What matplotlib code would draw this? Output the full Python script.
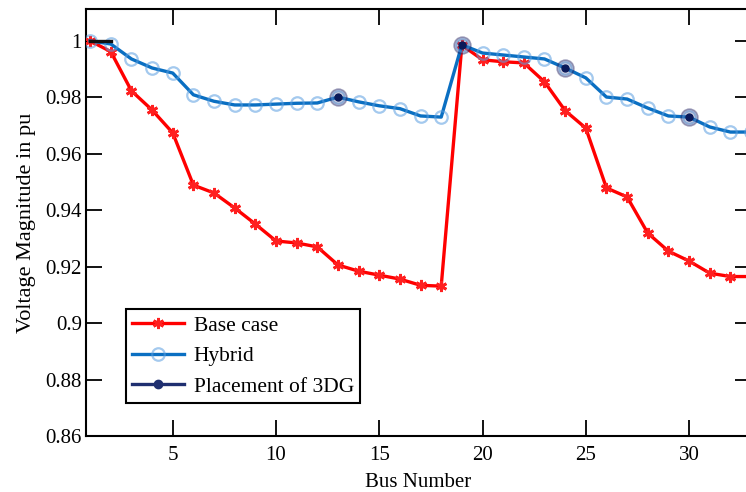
import numpy as np
import matplotlib
matplotlib.use("Agg")
import matplotlib.pyplot as plt

plt.rcParams['font.family'] = ['Liberation Serif', 'DejaVu Serif']

bus = np.arange(1, 34)

base_case = [1.0, 0.9962, 0.9823, 0.9755, 0.9674, 0.9489, 0.9461, 0.9408, 0.9351, 0.9291,
             0.9284, 0.9270, 0.9206, 0.9184, 0.9170, 0.9156, 0.9134, 0.9131, 0.9985, 0.9933,
             0.9926, 0.9922, 0.9855, 0.9753, 0.9691, 0.9479, 0.9447, 0.9319, 0.9255, 0.9220,
             0.9177, 0.9165, 0.9165]

hybrid = [1.0, 0.9989, 0.9936, 0.9904, 0.9886, 0.9809, 0.9786, 0.9773, 0.9773, 0.9776,
          0.9779, 0.9780, 0.9801, 0.9784, 0.9770, 0.9760, 0.9734, 0.9730, 0.9986, 0.9957,
          0.9950, 0.9943, 0.9936, 0.9904, 0.9869, 0.9801, 0.9794, 0.9762, 0.9734, 0.9730,
          0.9695, 0.9677, 0.9677]

# buses where DG markers sit (plus the short dark stub at the feeder head)
dg_bus = [1, 2, 13, 19, 24, 30]
dg_val = [1.0, 1.0, 0.9801, 0.9986, 0.9904, 0.9730]

fig = plt.figure(figsize=(7.46, 4.92), dpi=100)
ax = fig.add_axes([86 / 746, 56 / 492, 665 / 746, 427 / 492])

ax.plot(bus, base_case, color='#ff0000', lw=2.4, marker=(6, 2, 0), ms=8, mew=2,
        mec='#ff2020', mfc='#ff0000', label='Base case', zorder=3)
ax.plot(bus, hybrid, color='#0a6fc2', lw=2.4, marker='o', ms=9,
        mfc='none', mec=(0.35, 0.62, 0.88, 0.55), mew=1.6, label='Hybrid', zorder=4)

# DG points: halo + dark centre
ax.plot(dg_bus[:2], dg_val[:2], color='#111111', lw=2.4, zorder=5)
ax.plot(dg_bus[2:], dg_val[2:], ls='none', marker='o', ms=12,
        mfc=(0.2, 0.2, 0.45, 0.2), mec=(0.15, 0.15, 0.4, 0.45), mew=1.2, zorder=5)
ax.plot(dg_bus[2:], dg_val[2:], ls='none', marker='o', ms=5,
        color='#0b1a5a', zorder=6)
ax.plot([], [], color='#1f2f70', lw=2.4, marker='o', ms=6, mfc='#1f2f70',
        label='Placement of 3DG')

ax.set_xlim(0.8, 33)
ax.set_ylim(0.86, 1.0113)
ax.set_xticks([5, 10, 15, 20, 25, 30])
ax.set_yticks([0.86, 0.88, 0.9, 0.92, 0.94, 0.96, 0.98, 1.0])
ax.set_yticklabels(['0.86', '0.88', '0.9', '0.92', '0.94', '0.96', '0.98', '1'])

ax.tick_params(direction='in', length=11.5, width=1.3, top=True, right=True,
               labelsize=15)
ax.tick_params(axis='x', pad=7)
ax.tick_params(axis='y', pad=3)
for s in ax.spines.values():
    s.set_linewidth(1.5)

ax.set_xlabel('Bus Number', fontsize=15, labelpad=6)
ax.set_ylabel('Voltage Magnitude in pu', fontsize=16, labelpad=7)

leg = ax.legend(loc='upper left', bbox_to_anchor=(0.06, 0.297), borderaxespad=0,
                fontsize=15.5, fancybox=False, edgecolor='black', framealpha=1,
                handlelength=2.4, borderpad=0.3, labelspacing=0.48, handletextpad=0.45)
leg.get_frame().set_linewidth(1.5)

fig.savefig('out.png', dpi=100)
